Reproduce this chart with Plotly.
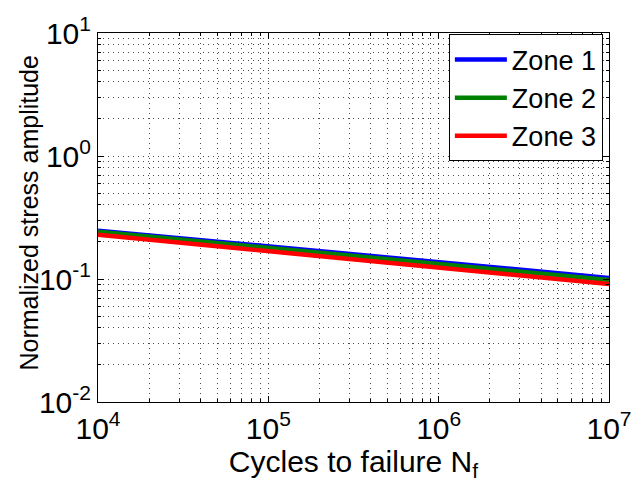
import plotly.graph_objects as go

# Data (cycles, normalized stress amplitude)
cycles = [1e4, 1e5, 1e6, 1e7]
zone1 = [0.247, 0.184, 0.137, 0.102]
zone2 = [0.242, 0.178, 0.132, 0.098]
zone3 = [0.229, 0.168, 0.124, 0.091]

series = [("Zone 1", zone1, "#0000FF"),
          ("Zone 2", zone2, "#008000"),
          ("Zone 3", zone3, "#FF0000")]

x_exponents = ["4", "5", "6", "7"]
y_exponents = ["-2", "-1", "0", "1"]
x_tickvals = [1e4, 1e5, 1e6, 1e7]
y_tickvals = [1e-2, 1e-1, 1e0, 1e1]


def power_label(e):
    return "10<sup>%s</sup>" % e


x_ticktext = [power_label(e) for e in x_exponents]
y_ticktext = [power_label(e) for e in y_exponents]

x_minor = [m * 10 ** e for e in range(4, 7) for m in range(2, 10)]
y_minor = [m * 10.0 ** e for e in range(-2, 1) for m in range(2, 10)]

FONT = "Liberation Sans, Arial, sans-serif"
GRID = "rgba(0,0,0,0.7)"
DASH = "1px,4px"

fig = go.Figure()
for name, vals, color in series:
    fig.add_trace(go.Scatter(x=cycles, y=vals, mode="lines", name=name,
                             line=dict(color=color, width=4.5)))

axis_common = dict(
    type="log",
    showline=True, linecolor="black", linewidth=1, mirror="allticks",
    ticks="inside", ticklen=6, tickcolor="black", tickwidth=1,
    showgrid=True, gridcolor=GRID, gridwidth=1, griddash=DASH,
    zeroline=False,
    tickfont=dict(family=FONT, size=30, color="black"),
)

fig.update_xaxes(
    **axis_common,
    range=[4, 7],
    tickvals=x_tickvals, ticktext=x_ticktext,
    minor=dict(tickvals=x_minor, ticks="inside", ticklen=3, tickcolor="black",
               showgrid=True, gridcolor=GRID, gridwidth=1, griddash=DASH),
    title=dict(text="Cycles to failure N<sub>f</sub>",
               font=dict(family=FONT, size=30, color="black"), standoff=0),
)
fig.update_yaxes(
    **axis_common,
    range=[-2, 1],
    tickvals=y_tickvals, ticktext=y_ticktext,
    minor=dict(tickvals=y_minor, ticks="inside", ticklen=3, tickcolor="black",
               showgrid=True, gridcolor=GRID, gridwidth=1, griddash=DASH),
)

# y-axis title placed as rotated text (centred ~28 px from the left edge)
fig.add_annotation(text="Normalized stress amplitude", textangle=-90,
                   xref="paper", yref="paper", x=0, y=0.5,
                   xanchor="center", yanchor="middle", xshift=-70, yshift=4,
                   showarrow=False,
                   font=dict(family=FONT, size=25, color="black"))

fig.update_layout(
    width=644, height=487,
    margin=dict(l=98, r=35, t=27, b=85),
    paper_bgcolor="white", plot_bgcolor="white",
    font=dict(family=FONT, color="black"),
    showlegend=True,
    legend=dict(x=0.988, y=0.996, xanchor="right", yanchor="top",
                bgcolor="white", bordercolor="black", borderwidth=1,
                font=dict(family=FONT, size=27, color="black"),
                tracegroupgap=0, itemwidth=52),
)

fig.write_html("out.html")
